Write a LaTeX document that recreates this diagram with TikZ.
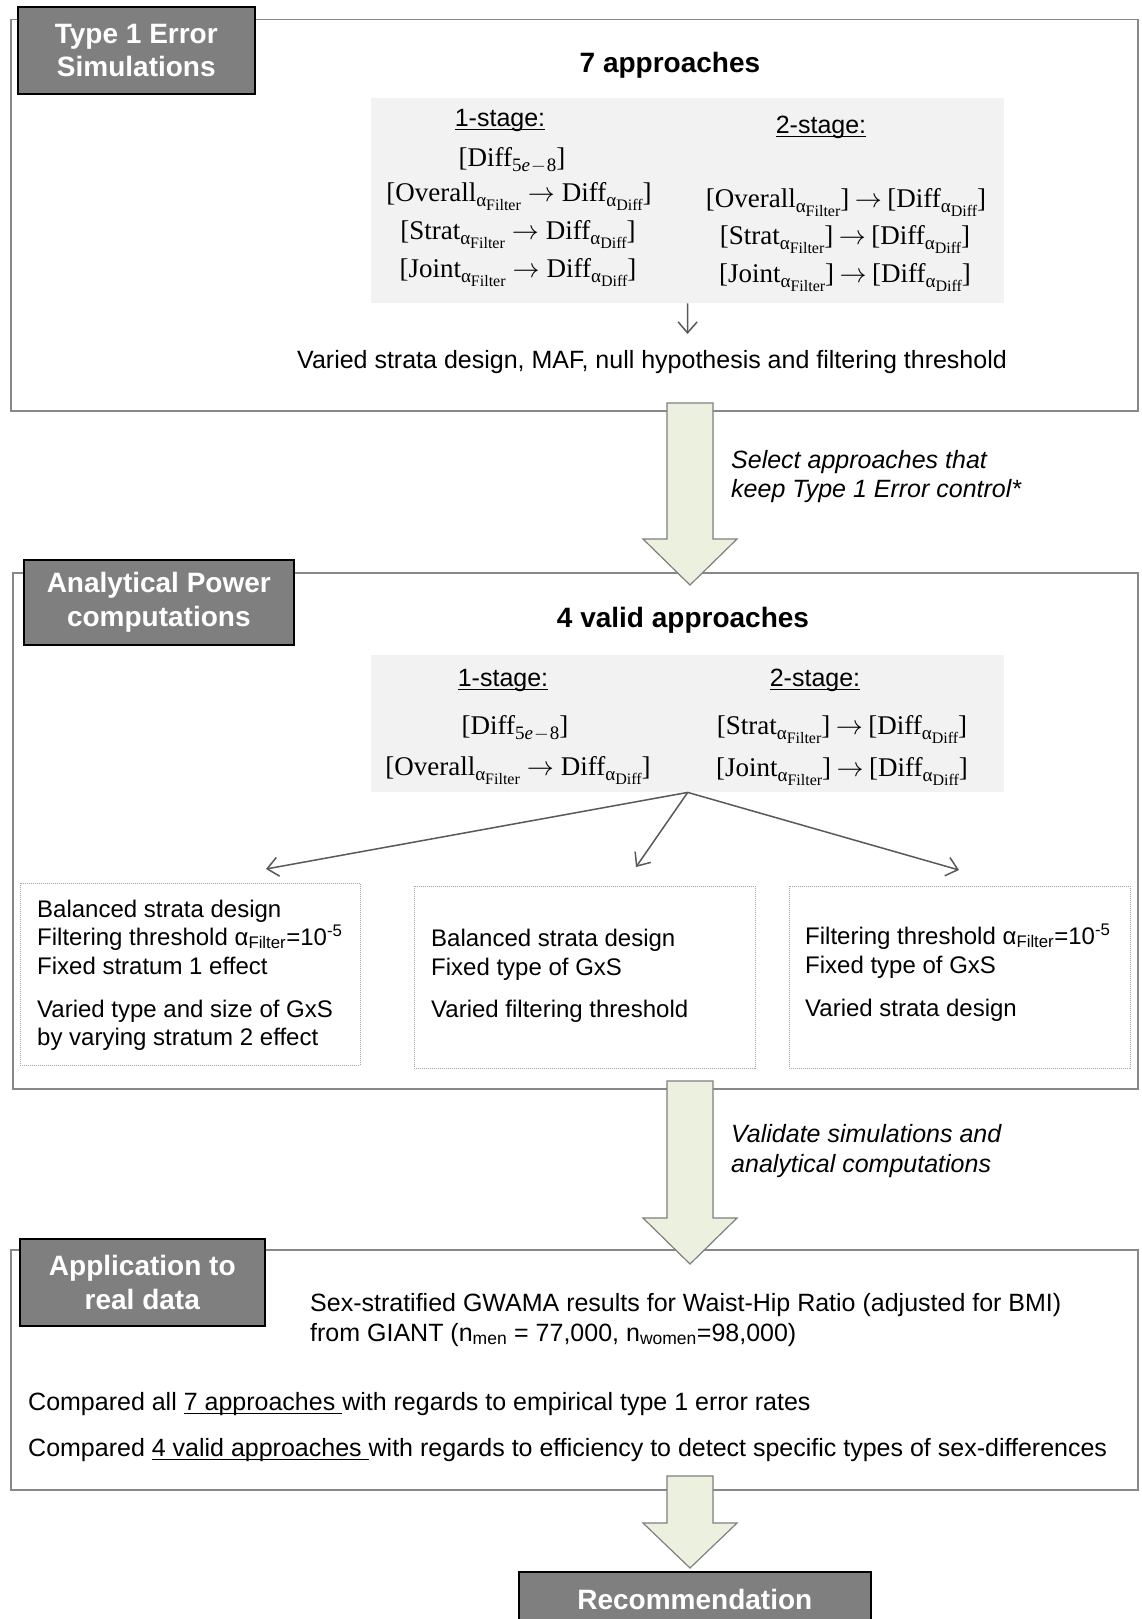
\RequirePackage{fix-cm}
\documentclass[tikz,border=0pt]{standalone}
\usepackage[no-math]{fontspec}
\setmainfont{Liberation Sans}
\newfontfamily\mserif{Liberation Serif}
\usetikzlibrary{arrows.meta}

\definecolor{tagfill}{HTML}{7F7F7F}
\definecolor{boxline}{HTML}{888888}
\definecolor{panelfill}{HTML}{F2F2F2}
\definecolor{arrowfill}{HTML}{EBF1DE}
\definecolor{arrowline}{HTML}{7F7F7F}
\definecolor{connc}{HTML}{595959}
\definecolor{dotline}{HTML}{A6A6A6}

\newsavebox{\ulbox}
\newcommand{\myul}[1]{\leavevmode\sbox{\ulbox}{#1}\rlap{\rule[-4pt]{\wd\ulbox}{1.3pt}}\usebox{\ulbox}}

\newcommand{\tagfont}{\fontsize{28}{33.5}\selectfont\bfseries}
\newcommand{\headfont}{\fontsize{28}{33}\selectfont\bfseries}
\newcommand{\bodyfont}{\fontsize{25}{30}\selectfont}
\newcommand{\boxfont}{\fontsize{24}{28}\selectfont}
\newcommand{\italfont}{\fontsize{25}{30}\selectfont\itshape}
\newcommand{\mathfont}{\fontsize{27}{31}\selectfont\mserif}

% subscript alpha with a second-level subscript
\newcommand{\aS}[1]{\raisebox{-5pt}{\fontsize{19}{19}\selectfont α\raisebox{-4.5pt}{\fontsize{16}{16}\selectfont #1}}}
\newcommand{\arr}[1]{\hspace{#1}$\rightarrow$\hspace{#1}}
\newcommand{\oneA}[1]{[#1\aS{Filter}\arr{7pt}Diff\aS{Diff}]}
\newcommand{\twoA}[1]{[#1\aS{Filter}]\arr{5.5pt}[Diff\aS{Diff}]}
\newcommand{\dfive}{[Diff\raisebox{-5pt}{\fontsize{19}{19}\selectfont 5\textit{e}\kern1pt$-$\kern1pt8}]}

\begin{document}
\begin{tikzpicture}[x=1pt,y=-1pt,
  tag/.style={draw=black, line width=1.6pt, fill=tagfill, text=white, font=\tagfont, align=center, inner sep=0pt, anchor=north west},
  outerbox/.style={draw=boxline, line width=1.5pt, inner sep=0pt, anchor=north west},
  panel/.style={fill=panelfill, inner sep=0pt, anchor=north west},
  dotbox/.style={draw=dotline, line width=0.8pt, dash pattern=on 1pt off 1pt, inner sep=0pt, anchor=north west},
  conn/.style={draw=connc, line width=1.5pt, -{Straight Barb[length=11pt,width=19pt]}},
  bigarrow/.style={draw=arrowline, fill=arrowfill, line width=1.2pt, line join=miter},
  body/.style={font=\bodyfont, inner sep=0pt},
  boxtxt/.style={font=\boxfont, inner sep=0pt, anchor=base west},
  mtxt/.style={font=\mathfont, inner sep=0pt, anchor=base},
  headtxt/.style={font=\headfont, inner sep=0pt, anchor=base},
  ital/.style={font=\italfont, inner sep=0pt, anchor=base west}
]
\fill[white] (0,0) rectangle (1142,1619);
\clip (0,0) rectangle (1142,1619);

% ---------- Section 1
\node[outerbox, minimum width=1127pt, minimum height=391pt] (box1) at (10,19) {};
\node[tag, minimum width=237pt, minimum height=87pt] (tag1) at (17,6) {Type 1 Error\\Simulations};
\node[headtxt] (t1) at (670,72.5) {7 approaches};
\node[panel, minimum width=633pt, minimum height=205pt] (panel1) at (371,98) {};
\node[body, anchor=base] (s1a) at (500,126) {\myul{1-stage:}};
\node[body, anchor=base] (s1b) at (821,133) {\myul{2-stage:}};
\node[mtxt] (m11) at (512,166) {\dfive};
\node[mtxt] (m12) at (519,201) {\oneA{Overall}};
\node[mtxt] (m13) at (518,239) {\oneA{Strat}};
\node[mtxt] (m14) at (518,277) {\oneA{Joint}};
\node[mtxt] (m21) at (846,207) {\twoA{Overall}};
\node[mtxt] (m22) at (845,244) {\twoA{Strat}};
\node[mtxt] (m23) at (845,282) {\twoA{Joint}};
\node[body, anchor=base west] (vary1) at (297,368) {Varied strata design, MAF, null hypothesis and filtering threshold};
\coordinate (v1) at (687.5,334);
\draw[conn] (panel1.south) -- (v1);

% ---------- Section 2
\node[outerbox, minimum width=1125pt, minimum height=516pt] (box2) at (12,572) {};
\node[tag, minimum width=270pt, minimum height=85pt] (tag2) at (23,559) {Analytical Power\\computations};
\node[headtxt] (t2) at (683,627) {4 valid approaches};
\node[panel, minimum width=633pt, minimum height=137pt] (panel2) at (371,655) {};
\node[body, anchor=base] (s2a) at (503,686) {\myul{1-stage:}};
\node[body, anchor=base] (s2b) at (815,686) {\myul{2-stage:}};
\node[mtxt] (p11) at (515,734) {\dfive};
\node[mtxt] (p12) at (518,775) {\oneA{Overall}};
\node[mtxt] (p21) at (842,734) {\twoA{Strat}};
\node[mtxt] (p22) at (842,776) {\twoA{Joint}};

\node[dotbox, minimum width=340pt, minimum height=182pt] (ba) at (20,883) {};
\node[dotbox, minimum width=341pt, minimum height=182pt] (bb) at (414,886) {};
\node[dotbox, minimum width=341pt, minimum height=182pt] (bc) at (789,886) {};

\node[boxtxt] (a1) at (37,917) {Balanced strata design};
\node[boxtxt] (a2) at (37,945) {Filtering threshold α\textsubscript{Filter}=10\textsuperscript{-5}};
\node[boxtxt] (a3) at (37,974) {Fixed stratum 1 effect};
\node[boxtxt] (a4) at (37,1017) {Varied type and size of GxS};
\node[boxtxt] (a5) at (37,1045) {by varying stratum 2 effect};

\node[boxtxt] (b1) at (431,946) {Balanced strata design};
\node[boxtxt] (b2) at (431,975) {Fixed type of GxS};
\node[boxtxt] (b3) at (431,1017) {Varied filtering threshold};

\node[boxtxt] (c1) at (805,944) {Filtering threshold α\textsubscript{Filter}=10\textsuperscript{-5}};
\node[boxtxt] (c2) at (805,973) {Fixed type of GxS};
\node[boxtxt] (c3) at (805,1016) {Varied strata design};

\coordinate (ea) at (266,869);
\coordinate (eb) at (636,867);
\coordinate (ec) at (959,870);
\draw[conn] (panel2.south) -- (ea);
\draw[conn] (panel2.south) -- (eb);
\draw[conn] (panel2.south) -- (ec);

% ---------- Section 3
\node[outerbox, minimum width=1127pt, minimum height=240pt] (box3) at (10,1249) {};
\node[tag, minimum width=245pt, minimum height=87pt] (tag3) at (19,1238) {Application to\\real data};
\node[body, anchor=base west] (g1) at (310,1311) {Sex-stratified GWAMA results for Waist-Hip Ratio (adjusted for BMI)};
\node[body, anchor=base west] (g2) at (310,1341) {from GIANT (n\textsubscript{men} = 77,000, n\textsubscript{women}=98,000)};
\node[body, anchor=base west] (r1) at (28,1410) {Compared all \myul{7 approaches }with regards to empirical type 1 error rates};
\node[body, anchor=base west] (r2) at (28,1456) {Compared \myul{4 valid approaches }with regards to efficiency to detect specific types of sex-differences};

\node[tag, minimum width=352pt, minimum height=56pt] (rec) at (518,1571) {Recommendation};

% ---------- Block arrows between the stages
\draw[bigarrow] (667,403) -- (713,403) -- (713,539) -- (737,539) -- (690,585) -- (643,539) -- (667,539) -- cycle;
\draw[bigarrow] (667,1081) -- (713,1081) -- (713,1218) -- (737,1218) -- (690,1264) -- (643,1218) -- (667,1218) -- cycle;
\draw[bigarrow] (667,1476) -- (713,1476) -- (713,1523) -- (737,1523) -- (690,1568) -- (643,1523) -- (667,1523) -- cycle;

\node[ital] (l1) at (731,468) {Select approaches that};
\node[ital] (l2) at (731,497) {keep Type 1 Error control*};
\node[ital] (l3) at (731,1142) {Validate simulations and};
\node[ital] (l4) at (731,1172) {analytical computations};
\end{tikzpicture}
\end{document}
